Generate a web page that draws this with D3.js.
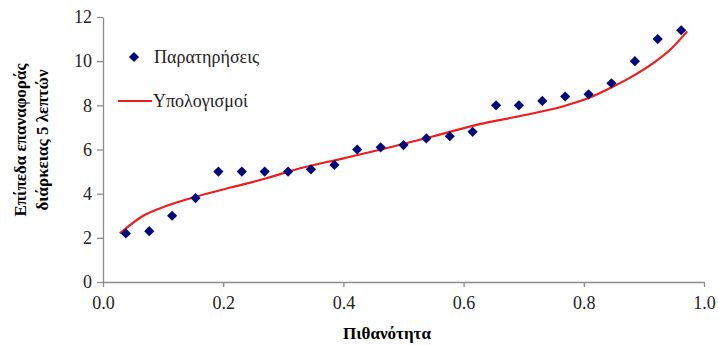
<!DOCTYPE html>
<html>
<head>
<meta charset="utf-8">
<script src="https://cdn.jsdelivr.net/npm/d3@7"></script>
<style>
  body { margin: 0; background: #fff; }
</style>
</head>
<body>
<div id="chart"></div>
<script>
// Observations (probability, level)
const obsProb = [0.038, 0.077, 0.115, 0.154, 0.192, 0.231, 0.269, 0.308, 0.346, 0.385, 0.423, 0.462, 0.5,
                 0.538, 0.577, 0.615, 0.654, 0.692, 0.731, 0.769, 0.808, 0.846, 0.885, 0.923, 0.962];
const obsLevel = [2.2, 2.3, 3.0, 3.8, 5.0, 5.0, 5.0, 5.0, 5.1, 5.3, 6.0, 6.1, 6.2,
                  6.5, 6.6, 6.8, 8.0, 8.0, 8.2, 8.4, 8.5, 9.0, 10.0, 11.0, 11.4];

// Computed curve
const calcProb = [0.028, 0.067, 0.106, 0.153, 0.216, 0.272, 0.328, 0.4, 0.478, 0.55, 0.627, 0.7,
                  0.765, 0.81, 0.849, 0.88, 0.915, 0.945, 0.972];
const calcLevel = [2.2, 3.0, 3.45, 3.85, 4.3, 4.7, 5.15, 5.6, 6.1, 6.6, 7.15, 7.55,
                   7.95, 8.35, 8.85, 9.3, 9.9, 10.55, 11.35];

const xTicks = [0, 0.2, 0.4, 0.6, 0.8, 1.0];
const yTicks = [0, 2, 4, 6, 8, 10, 12];

const FONT = "'Liberation Serif', 'DejaVu Serif', serif";
const width = 718, height = 345;
const margin = {left: 103, right: 14, top: 17, bottom: 63};

const svg = d3.select("#chart").append("svg")
  .attr("width", width)
  .attr("height", height)
  .style("font-family", FONT);

const x = d3.scaleLinear().domain([0, 1]).range([margin.left, width - margin.right]);
const y = d3.scaleLinear().domain([0, 12]).range([height - margin.bottom, margin.top]);

// Axes
const xAxis = svg.append("g")
  .attr("transform", `translate(0,${height - margin.bottom})`)
  .call(d3.axisBottom(x).tickValues(xTicks).tickFormat(d3.format(".1f")).tickSize(5).tickSizeOuter(0));
const yAxis = svg.append("g")
  .attr("transform", `translate(${margin.left},0)`)
  .call(d3.axisLeft(y).tickValues(yTicks).tickFormat(d3.format("d")).tickSize(6).tickSizeOuter(0));

[xAxis, yAxis].forEach(a => {
  a.attr("font-family", null).attr("font-size", null);
  a.select(".domain").attr("stroke", "#8c8c8c").attr("stroke-width", 1.3);
  a.selectAll(".tick line").attr("stroke", "#8c8c8c").attr("stroke-width", 1.3);
  a.selectAll(".tick text").attr("fill", "#222").style("font-family", FONT).style("font-size", "18px");
});
xAxis.selectAll(".tick text").attr("dy", "1.05em");
yAxis.selectAll(".tick text").attr("x", -11);

// Axis titles
svg.append("text")
  .attr("x", 387).attr("y", 339)
  .attr("text-anchor", "middle")
  .style("font-family", FONT)
  .style("font-size", "17px").style("font-weight", "bold")
  .text("Πιθανότητα");

const yTitle = svg.append("g").attr("transform", "translate(0,140) rotate(-90)");
yTitle.append("text")
  .attr("x", 0).attr("y", 26)
  .attr("text-anchor", "middle")
  .style("font-family", FONT)
  .style("font-size", "17px").style("font-weight", "bold")
  .text("Επίπεδα επαναφοράς");
yTitle.append("text")
  .attr("x", 0).attr("y", 48)
  .attr("text-anchor", "middle")
  .style("font-family", FONT)
  .style("font-size", "17px").style("font-weight", "bold")
  .text("διάρκειας 5 λεπτών");

// Computed line
const calc = calcProb.map((p, i) => ({p, v: calcLevel[i]}));
svg.append("path")
  .datum(calc)
  .attr("fill", "none")
  .attr("stroke", "#ee1c1c")
  .attr("stroke-width", 2.2)
  .attr("d", d3.line().x(d => x(d.p)).y(d => y(d.v)).curve(d3.curveMonotoneX));

// Observation markers
const obs = obsProb.map((p, i) => ({p, v: obsLevel[i]}));
const diamond = d3.symbol().type(d3.symbolSquare).size(52);
svg.selectAll(".obs")
  .data(obs)
  .enter()
  .append("path")
  .attr("class", "obs")
  .attr("d", diamond)
  .attr("fill", "#00087a")
  .attr("transform", d => `translate(${x(d.p)},${y(d.v)}) rotate(45)`);

// Legend
const legend = svg.append("g");
legend.append("path")
  .attr("d", diamond)
  .attr("fill", "#00087a")
  .attr("transform", "translate(134,57) rotate(45)");
legend.append("text")
  .attr("x", 154).attr("y", 63)
  .style("font-family", FONT).style("font-size", "18px")
  .attr("fill", "#222")
  .text("Παρατηρήσεις");
legend.append("line")
  .attr("x1", 118).attr("x2", 152).attr("y1", 101).attr("y2", 101)
  .attr("stroke", "#ee1c1c").attr("stroke-width", 2.2);
legend.append("text")
  .attr("x", 153).attr("y", 107)
  .style("font-family", FONT).style("font-size", "18px")
  .attr("fill", "#222")
  .text("Υπολογισμοί");
</script>
</body>
</html>
